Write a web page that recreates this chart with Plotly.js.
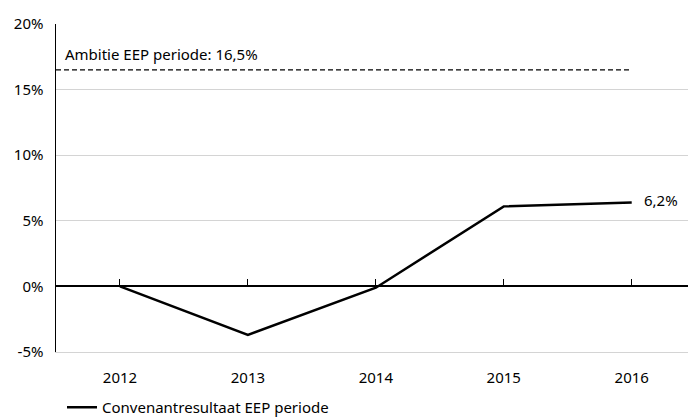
<!DOCTYPE html>
<html>
<head>
<meta charset="utf-8">
<script src="https://cdn.plot.ly/plotly-3.0.1.min.js"></script>
<style>html,body{margin:0;padding:0;background:#fff;}#chart{width:688px;height:418px;}</style>
</head>
<body>
<div id="chart"></div>
<script>
var years = [2012, 2013, 2014, 2015, 2016];
var values = [0, -3.7, -0.1, 6.1, 6.4];
var seriesName = 'Convenantresultaat EEP periode';
var targetValue = 16.5;
var targetLabel = 'Ambitie EEP periode: 16,5%';
var endLabel = '6,2%';
var yTicks = [-5, 0, 5, 10, 15, 20];
var yTickText = ['-5%', '0%', '5%', '10%', '15%', '20%'];

var xMin = years[0] - 0.5;
var xMax = years[years.length - 1] + 0.44;
var font = 'Noto Sans, Open Sans, sans-serif';

var traces = [
  {
    x: [xMin, years[years.length - 1]],
    y: [targetValue, targetValue],
    xaxis: 'x2',
    mode: 'lines',
    line: {color: '#000', width: 1.2, dash: '5px,3px'},
    showlegend: false,
    hoverinfo: 'skip'
  },
  {
    x: years,
    y: values,
    mode: 'lines',
    name: seriesName,
    line: {color: '#000', width: 2.5},
    showlegend: true
  }
];

var layout = {
  width: 688,
  height: 418,
  margin: {l: 56, r: 0, t: 24, b: 66},
  paper_bgcolor: '#fff',
  plot_bgcolor: '#fff',
  font: {family: font, size: 15, color: '#000'},
  xaxis: {
    range: [xMin, xMax],
    tickvals: years,
    ticktext: years.map(String),
    showgrid: false,
    zeroline: false,
    showline: true,
    linecolor: '#d4d4d4',
    linewidth: 1,
    ticks: '',
    tickfont: {size: 15, color: '#000'},
    ticklabelstandoff: 12,
    fixedrange: true
  },
  xaxis2: {
    overlaying: 'x',
    anchor: 'free',
    position: 0.2,
    side: 'bottom',
    range: [xMin, xMax],
    tickvals: years,
    showticklabels: false,
    ticks: 'inside',
    ticklen: 7,
    tickwidth: 1,
    tickcolor: '#000',
    showgrid: false,
    zeroline: false,
    showline: false
  },
  yaxis: {
    range: [-5, 20],
    tickvals: yTicks,
    ticktext: yTickText,
    showgrid: true,
    gridcolor: '#d4d4d4',
    gridwidth: 1,
    zeroline: true,
    zerolinecolor: '#000',
    zerolinewidth: 2,
    showline: true,
    linecolor: '#000',
    linewidth: 1.5,
    ticks: '',
    tickfont: {size: 15, color: '#000'},
    ticklabelstandoff: 8,
    fixedrange: true
  },
  showlegend: true,
  legend: {
    orientation: 'h',
    xref: 'container',
    yref: 'container',
    x: 62 / 688,
    xanchor: 'left',
    y: 27 / 418,
    yanchor: 'top',
    font: {size: 15, color: '#000'},
    bgcolor: 'rgba(0,0,0,0)'
  },
  annotations: [
    {
      x: xMin,
      y: targetValue,
      xref: 'x',
      yref: 'y',
      text: targetLabel,
      showarrow: false,
      xanchor: 'left',
      yanchor: 'bottom',
      xshift: 7,
      yshift: 4,
      font: {size: 15, color: '#000'}
    },
    {
      x: years[years.length - 1],
      y: values[values.length - 1],
      xref: 'x',
      yref: 'y',
      text: endLabel,
      showarrow: false,
      xanchor: 'left',
      yanchor: 'middle',
      xshift: 10,
      yshift: 2,
      font: {size: 15, color: '#000'}
    }
  ]
};

Plotly.newPlot('chart', traces, layout, {displayModeBar: false, staticPlot: true});
</script>
</body>
</html>
